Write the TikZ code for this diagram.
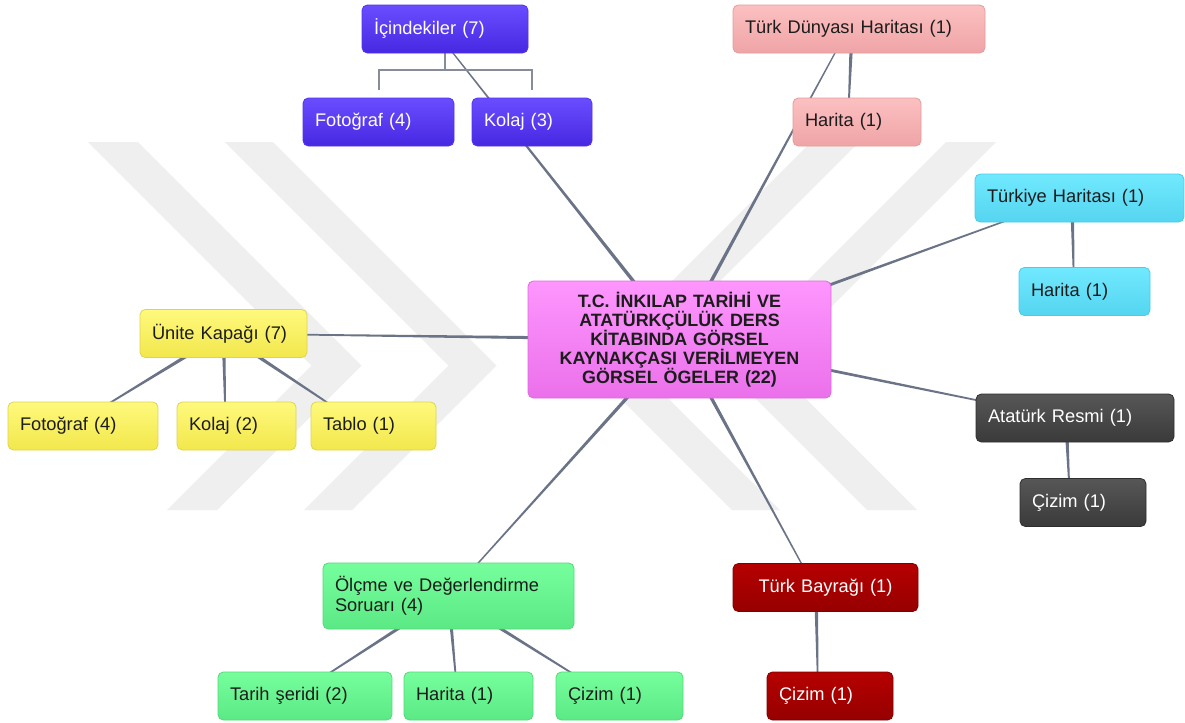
\documentclass[tikz,border=0pt]{standalone}
\usepackage{fontspec}
\setmainfont{Liberation Sans}
\usetikzlibrary{calc}
\pgfdeclarelayer{wm}
\pgfdeclarelayer{bg}
\pgfsetlayers{wm,bg,main}
\definecolor{wmgray}{HTML}{EFEFEF}
\definecolor{conncol}{HTML}{6B7387}
\definecolor{brkcol}{HTML}{868C98}
\definecolor{purT}{HTML}{6A4DFF}
\definecolor{purB}{HTML}{4728E2}
\definecolor{purD}{HTML}{5234EE}
\definecolor{pnkT}{HTML}{FCC0C1}
\definecolor{pnkB}{HTML}{EFA4A6}
\definecolor{pnkD}{HTML}{E39C9E}
\definecolor{cyaT}{HTML}{70E9FE}
\definecolor{cyaB}{HTML}{55D5F0}
\definecolor{cyaD}{HTML}{4CCBE6}
\definecolor{magT}{HTML}{FE96FE}
\definecolor{magB}{HTML}{EB70EB}
\definecolor{magD}{HTML}{DC6ADC}
\definecolor{yelT}{HTML}{FFF97C}
\definecolor{yelB}{HTML}{F2E74C}
\definecolor{yelD}{HTML}{DDD456}
\definecolor{gryT}{HTML}{575757}
\definecolor{gryB}{HTML}{3A3A3A}
\definecolor{gryD}{HTML}{2E2E2E}
\definecolor{grnT}{HTML}{76FE9D}
\definecolor{grnB}{HTML}{5BE985}
\definecolor{grnD}{HTML}{54D97A}
\definecolor{redT}{HTML}{B60000}
\definecolor{redB}{HTML}{960000}
\definecolor{redD}{HTML}{7E0000}
\definecolor{txtdark}{HTML}{1C1C1C}
\tikzset{
  box/.style={rectangle, rounded corners=4pt, line width=0.6pt, inner xsep=9pt, inner ysep=0pt,
    minimum height=36pt, align=left, text=txtdark,
    font=\fontsize{13.7pt}{15pt}\selectfont},
  purbox/.style={box, draw=purD, top color=purT, bottom color=purB, text=white},
  pnkbox/.style={box, draw=pnkD, top color=pnkT, bottom color=pnkB},
  cyabox/.style={box, draw=cyaD, top color=cyaT, bottom color=cyaB},
  yelbox/.style={box, draw=yelD, top color=yelT, bottom color=yelB},
  grybox/.style={box, draw=gryD, top color=gryT, bottom color=gryB, text=white},
  grnbox/.style={box, draw=grnD, top color=grnT, bottom color=grnB},
  redbox/.style={box, draw=redD, top color=redT, bottom color=redB, text=white},
  centerbox/.style={box, draw=magD, top color=magT, bottom color=magB, align=center,
    font=\bfseries\fontsize{13.4pt}{14.3pt}\selectfont, minimum height=87.75pt},
  conn/.style={fill=conncol},
  brk/.style={draw=brkcol, line cap=butt},
  wmband/.style={fill=wmgray}
}
% \taper{parent}{child}{parent x-offset}{child x-offset}  (offsets in px)
\newcommand\taper[4]{%
  \fill[conn] let \p1=($(#1.center)+(#3,0)$), \p2=($(#2.center)+(#4,0)$), \n1={atan2(\y2-\y1,\x2-\x1)} in
   ($(\p1)+(\n1+90:1.5pt)$) -- ($(\p2)+(\n1+90:0.4pt)$) --
   ($(\p2)+(\n1-90:0.4pt)$) -- ($(\p1)+(\n1-90:1.5pt)$) -- cycle;}
\begin{document}
\begin{tikzpicture}[x=0.75pt, y=-0.75pt]
\useasboundingbox (0,0) rectangle (1185,722);
% background and watermark
\begin{pgfonlayer}{wm}
\fill[white] (0,0) rectangle (1185,722);
\fill[wmband] (88,142) -- (138,142) -- (361.5,365.5) -- (217,510) -- (167,510) -- (311.5,365.5) -- cycle;
\fill[wmband] (225,142) -- (273,142) -- (496.5,365.5) -- (352,510) -- (304,510) -- (448.5,365.5) -- cycle;
\fill[wmband] (996,142) -- (946,142) -- (722.5,365.5) -- (867,510) -- (917,510) -- (772.5,365.5) -- cycle;
\fill[wmband] (859,142) -- (811,142) -- (587.5,365.5) -- (732,510) -- (780,510) -- (635.5,365.5) -- cycle;
\end{pgfonlayer}
% nodes
\node[centerbox, text width=209.25pt] (ctr) at (679.5,339.5)
  {T.C. İNKILAP TARİHİ VE\\ATATÜRKÇÜLÜK DERS\\KİTABINDA GÖRSEL\\KAYNAKÇASI VERİLMEYEN\\GÖRSEL ÖGELER (22)};
\node[purbox, text width=106.5pt] (ic) at (445,29) {İçindekiler (7)};
\node[purbox, text width=95.25pt] (f1) at (378.5,122) {Fotoğraf (4)};
\node[purbox, text width=72pt] (k3) at (532,122) {Kolaj (3)};
\node[pnkbox, text width=171pt] (td) at (859,29) {Türk Dünyası Haritası (1)};
\node[pnkbox, text width=78pt] (hp) at (857,122) {Harita (1)};
\node[cyabox, text width=138.75pt] (th) at (1079.5,198) {Türkiye Haritası (1)};
\node[cyabox, text width=80.25pt] (hc) at (1084.5,291.5) {Harita (1)};
\node[yelbox, text width=107.25pt] (uk) at (223.5,333.5) {Ünite Kapağı (7)};
\node[yelbox, text width=94.5pt] (fy) at (83,426) {Fotoğraf (4)};
\node[yelbox, text width=71.25pt] (k2) at (236.5,426) {Kolaj (2)};
\node[yelbox, text width=75.75pt] (tb) at (373.5,426) {Tablo (1)};
\node[grybox, text width=130.5pt] (ar) at (1075,418) {Atatürk Resmi (1)};
\node[grybox, text width=76.5pt] (cg) at (1083,502.5) {Çizim (1)};
\node[grnbox, text width=170.25pt, minimum height=49.5pt] (ol) at (448.5,596) {Ölçme ve Değerlendirme\\Soruarı (4)};
\node[grnbox, text width=112.5pt] (ts) at (305,696) {Tarih şeridi (2)};
\node[grnbox, text width=78.75pt] (hg) at (468.5,696) {Harita (1)};
\node[grnbox, text width=77.25pt] (cz) at (619.5,696) {Çizim (1)};
\node[redbox, text width=120.75pt, align=center] (tbay) at (825.5,587.5) {Türk Bayrağı (1)};
\node[redbox, text width=76.5pt] (cr) at (830,696) {Çizim (1)};
% connectors
\begin{pgfonlayer}{bg}
\taper{ctr}{ic}{0}{-11}
\taper{ctr}{td}{0}{-11}
\taper{ctr}{th}{0}{-11}
\taper{ctr}{ar}{0}{-11}
\taper{ctr}{tbay}{0}{-11}
\taper{ctr}{ol}{0}{0}
\taper{ctr}{uk}{0}{-11}
\taper{td}{hp}{-7}{-9}
\taper{th}{hc}{-7.5}{-10.5}
\taper{ar}{cg}{-9}{-13}
\taper{tbay}{cr}{-9.5}{-12}
\taper{uk}{fy}{0}{-11}
\taper{uk}{k2}{0}{-11}
\taper{uk}{tb}{0}{-11}
\taper{ol}{ts}{0}{-11}
\taper{ol}{hg}{0}{-11}
\taper{ol}{cz}{0}{-11}
\draw[brk, line width=2.2pt] (ic.south) -- ++(0,17) coordinate (icm);
\draw[brk, line width=1.5pt] ($(f1.north)+(0,-8)$) |- (icm) -| ($(k3.north)+(0,-8)$);
\end{pgfonlayer}
\end{tikzpicture}
\end{document}
